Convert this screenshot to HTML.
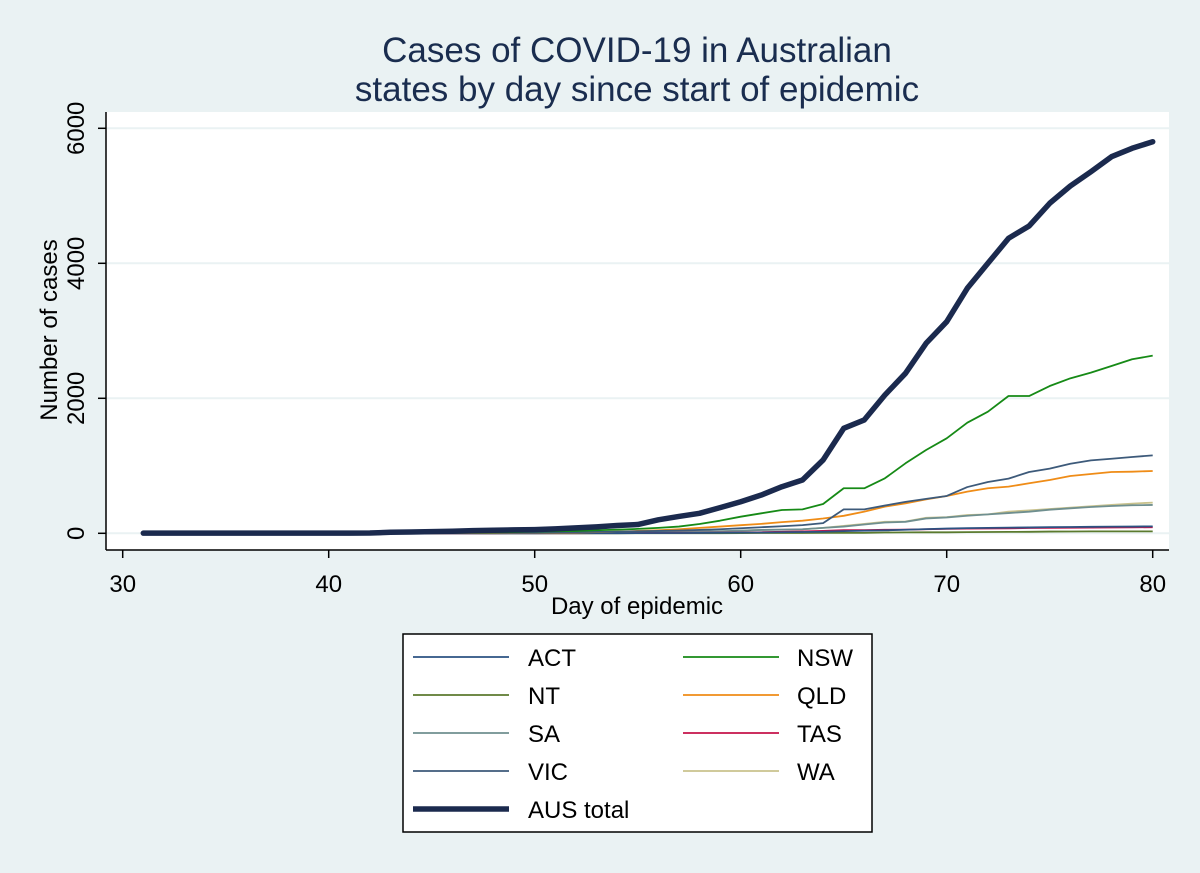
<!DOCTYPE html>
<html><head><meta charset="utf-8"><style>
body{margin:0;background:#eaf2f3;}
svg{display:block;font-family:"Liberation Sans",sans-serif;}
</style></head><body>
<svg id="chart" width="1200" height="873" viewBox="0 0 1200 873">
<rect x="0" y="0" width="1200" height="873" fill="#eaf2f3"/>
<text x="637" y="62" font-size="35" fill="#1a2d4f" text-anchor="middle">Cases of COVID-19 in Australian</text>
<text x="637" y="101" font-size="35" fill="#1a2d4f" text-anchor="middle">states by day since start of epidemic</text>
<rect x="106" y="112" width="1063" height="438" fill="#ffffff"/>
<g id="grid"></g>
<g id="series"></g>
<line x1="106" y1="112" x2="106" y2="550" stroke="#000" stroke-width="1.5"/>
<line x1="106" y1="550" x2="1169" y2="550" stroke="#000" stroke-width="1.5"/>
<g id="axes"></g>
<text x="637" y="614" font-size="24" fill="#000" text-anchor="middle">Day of epidemic</text>
<text transform="translate(57,330) rotate(-90)" font-size="24" fill="#000" text-anchor="middle">Number of cases</text>
<rect x="403" y="634" width="469" height="198" fill="#fff" stroke="#000" stroke-width="1.5"/>
<g id="legend"></g>
</svg>
<script>
const days = [31,32,33,34,35,36,37,38,39,40,41,42,43,44,45,46,47,48,49,50,51,52,53,54,55,56,57,58,59,60,61,62,63,64,65,66,67,68,69,70,71,72,73,74,75,76,77,78,79,80];
const xTicks = [30,40,50,60,70,80];
const yTicks = [0,2000,4000,6000];
const NSWdata = [0,0,0,0,0,0,0,0,0,0,0,2,3,4,6,8,10,14,18,25,30,35,45,55,65,80,100,138,187,246,296,345,355,434,667,667,815,1037,1234,1407,1639,1802,2034,2034,2182,2296,2380,2479,2578,2632];
const VICdata = [0,0,0,0,0,0,0,0,0,0,0,1,2,3,4,5,6,8,10,12,15,18,21,25,30,35,42,50,60,75,90,105,121,151,355,355,411,466,510,553,685,760,810,908,958,1030,1080,1105,1130,1155];
const QLDdata = [0,0,0,0,0,0,0,0,0,0,0,1,1,2,2,3,4,5,6,8,10,13,18,25,35,45,60,80,100,120,140,165,187,219,259,321,395,444,503,553,617,667,691,741,790,849,879,908,913,923];
const WAdata  = [0,0,0,0,0,0,0,0,0,0,0,0,0,1,1,1,2,2,3,4,5,6,8,10,12,15,20,25,30,40,50,55,60,80,110,140,170,175,230,240,270,280,320,340,360,380,400,420,440,455];
const SAdata  = [0,0,0,0,0,0,0,0,0,0,0,0,0,1,1,1,2,2,3,4,5,6,8,10,12,15,20,25,30,40,50,55,60,80,100,130,160,170,220,235,260,280,300,320,350,370,390,405,415,420];
const ACTdata = [0,0,0,0,0,0,0,0,0,0,0,0,0,0,0,0,0,0,0,0,1,1,1,2,3,4,5,6,8,10,12,15,19,23,32,39,44,53,62,70,77,80,84,87,91,93,96,99,100,103];
const NTdata  = [0,0,0,0,0,0,0,0,0,0,0,0,0,0,0,0,0,0,0,0,0,0,0,0,1,1,1,1,1,3,5,5,5,6,6,6,12,14,15,15,17,19,21,22,26,27,28,28,28,28];
const TASdata = [0,0,0,0,0,0,0,0,0,0,0,0,0,0,0,0,0,0,1,1,2,2,3,4,5,6,7,8,10,12,16,22,28,36,47,47,52,55,60,65,69,72,74,78,80,82,84,86,88,90];
const AUSdata = [2,2,2,2,2,2,2,2,2,2,2,5,15,20,25,30,40,45,50,55,65,80,95,115,130,200,250,296,380,468,567,690,790,1086,1555,1680,2049,2370,2815,3135,3630,4000,4370,4553,4889,5145,5357,5579,5704,5801];

const NS="http://www.w3.org/2000/svg";
function X(d){return 122.7+(d-30)*20.6;}
function Y(v){return 533.3-v*0.0675;}
function mk(tag,attrs,parent){const e=document.createElementNS(NS,tag);for(const k in attrs)e.setAttribute(k,attrs[k]);parent.appendChild(e);return e;}
const grid=document.getElementById('grid'),axes=document.getElementById('axes'),ser=document.getElementById('series'),leg=document.getElementById('legend');
yTicks.forEach(t=>{
  const g=mk('line',{x1:106,x2:1169,y1:Y(t),y2:Y(t),stroke:'#eaf2f3','stroke-width':2},grid);
  
  
  const tk=mk('line',{x1:98,x2:106,y1:Y(t),y2:Y(t),stroke:'#000','stroke-width':1.5},axes);
  
  
  const tx=mk('text',{transform:`translate(84,${Y(t)}) rotate(-90)`,'font-size':24,'text-anchor':'middle',fill:'#000'},axes);
  tx.textContent=t;
  
  
});
xTicks.forEach(t=>{
  const tk=mk('line',{x1:X(t),x2:X(t),y1:550,y2:558,stroke:'#000','stroke-width':1.5},axes);
  
  
  const tx=mk('text',{x:X(t),y:592,'font-size':24,'text-anchor':'middle',fill:'#000'},axes);
  tx.textContent=t;
  
  
});
const defs=[
 ["ACT",ACTdata,'#2c5282',1.8],["NT",NTdata,'#5b7a2e',1.8],["SA",SAdata,'#6f8f8f',1.8],["VIC",VICdata,'#3d5a7a',1.8],
 ["NSW",NSWdata,'#168a16',1.8],["QLD",QLDdata,'#ef8c17',1.8],["TAS",TASdata,'#c4124a',1.8],["WA",WAdata,'#c9c28d',1.8]
];
const order=[["WA",7],["SA",2],["NT",1],["TAS",6],["ACT",0],["QLD",5],["VIC",3],["NSW",4]];
order.forEach(([n,i])=>{
  const [name,vals,col,w]=defs[i];
  const p=mk('polyline',{points:days.map((d,j)=>X(d)+','+Y(vals[j])).join(' '),fill:'none',stroke:col,'stroke-width':w,'stroke-linejoin':'round'},ser);
  
  
});
const a=mk('polyline',{points:days.map((d,j)=>X(d)+','+Y(AUSdata[j])).join(' '),fill:'none',stroke:'#1b2a4e','stroke-width':5.5,'stroke-linejoin':'round','stroke-linecap':'round'},ser);


const legItems=[["ACT",0,0,0],["NSW",1,0,4],["NT",0,1,1],["QLD",1,1,5],["SA",0,2,2],["TAS",1,2,6],["VIC",0,3,3],["WA",1,3,7],["AUS total",0,4,-1]];
legItems.forEach(([n,c,r,i])=>{
  const y=657+r*38;
  const lx=c?683:413;
  const col=i<0?'#1b2a4e':defs[i][2];
  const ln=mk('line',{x1:lx,x2:lx+96,y1:y,y2:y,stroke:col,'stroke-width':i<0?5.5:1.8},leg);
  
  
  const t=mk('text',{x:c?797:528,y:y+9,'font-size':24,fill:'#000'},leg);
  t.textContent=n;
  
  
});
</script>
</body></html>
